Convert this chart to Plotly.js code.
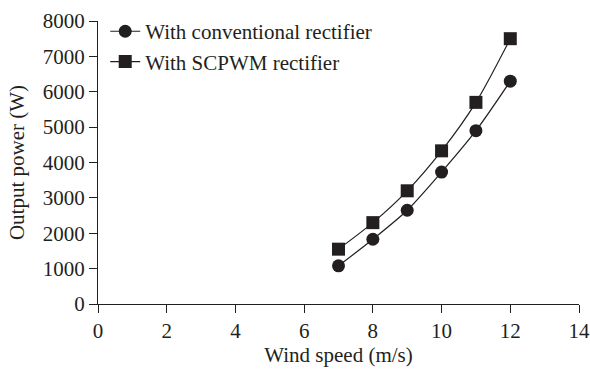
<!DOCTYPE html>
<html>
<head>
<meta charset="utf-8">
<script src="https://cdn.plot.ly/plotly-3.0.1.min.js"></script>
<style>html,body{margin:0;padding:0;background:#fff;}#chart{width:590px;height:370px;}</style>
</head>
<body>
<div id="chart"></div>
<script>
var windSpeed = [7, 8, 9, 10, 11, 12];
var conventionalPower = [1080, 1830, 2650, 3730, 4900, 6300];
var scpwmPower = [1550, 2300, 3200, 4330, 5700, 7500];
var seriesNames = ["With conventional rectifier", "With SCPWM rectifier"];
var xTicks = [0, 2, 4, 6, 8, 10, 12, 14];
var yTicks = [0, 1000, 2000, 3000, 4000, 5000, 6000, 7000, 8000];

var ink = "#231f20";
var traces = [
  {
    x: windSpeed, y: conventionalPower, name: seriesNames[0],
    type: "scatter", mode: "lines+markers",
    line: {color: ink, width: 1.2, shape: "spline", smoothing: 0.8},
    marker: {symbol: "circle", size: 13, color: ink}
  },
  {
    x: windSpeed, y: scpwmPower, name: seriesNames[1],
    type: "scatter", mode: "lines+markers",
    line: {color: ink, width: 1.2, shape: "spline", smoothing: 0.8},
    marker: {symbol: "square", size: 13, color: ink}
  }
];

var fam = "Liberation Serif, Times New Roman, serif";
var tickFont = {family: fam, size: 21, color: ink};
var titleFont = {family: fam, size: 21, color: ink};
var layout = {
  width: 590, height: 370,
  margin: {l: 98, r: 11, t: 16, b: 66},
  paper_bgcolor: "#fff", plot_bgcolor: "#fff",
  font: tickFont,
  showlegend: true,
  legend: {
    x: 0.015, y: 1.035, xanchor: "left", yanchor: "top",
    bgcolor: "rgba(0,0,0,0)", font: {family: fam, size: 21, color: ink},
    itemwidth: 30, tracegroupgap: 0
  },
  xaxis: {
    range: [0, 14], tickvals: xTicks, ticktext: xTicks.map(String),
    showgrid: false, zeroline: false, showline: true, linecolor: ink, linewidth: 1,
    ticks: "outside", ticklen: 8, tickcolor: ink, tickwidth: 1,
    tickfont: tickFont,
    title: {text: "Wind speed (m/s)", font: titleFont, standoff: 3}
  },
  yaxis: {
    range: [0, 8000], tickvals: yTicks, ticktext: yTicks.map(String),
    showgrid: false, zeroline: false, showline: true, linecolor: ink, linewidth: 1,
    ticks: "outside", ticklen: 8, tickcolor: ink, tickwidth: 1,
    tickfont: tickFont,
    title: {text: "Output power (W)", font: titleFont, standoff: 12}
  }
};
Plotly.newPlot("chart", traces, layout, {staticPlot: true, displayModeBar: false});
</script>
</body>
</html>
